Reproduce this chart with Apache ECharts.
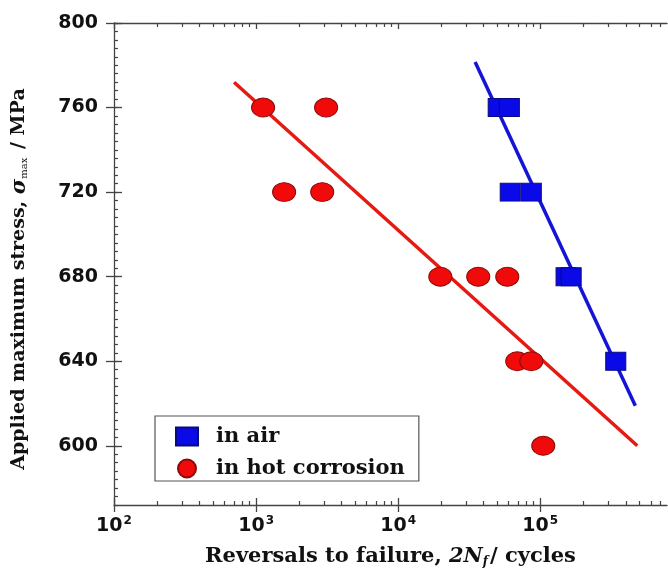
<!DOCTYPE html>
<html>
<head>
<meta charset="utf-8">
<script src="https://cdn.jsdelivr.net/npm/echarts@6/dist/echarts.min.js"></script>
<style>html,body{margin:0;padding:0;background:#fff}#c{width:668px;height:580px}</style>
</head>
<body>
<div id="c"></div>
<script>
// ---- data ----
var airCycles   = [50600, 60600, 61500, 86500, 152000, 165000, 340000];
var airStress   = [760, 760, 720, 720, 680, 680, 640];
var hotCycles   = [1120, 3110, 1575, 2920, 19800, 36600, 58600, 68900, 86500, 105000];
var hotStress   = [760, 760, 720, 720, 680, 680, 680, 640, 640, 600];
var airFitCycles = [34800, 467000];
var airFitStress = [781.5, 619];
var hotFitCycles = [700, 482000];
var hotFitStress = [772, 600];
var xMajorTicks = [100, 1000, 10000, 100000];
var xMinorTicks = [200,300,400,500,600,700,800,900,2000,3000,4000,5000,6000,7000,8000,9000,
                   20000,30000,40000,50000,60000,70000,80000,90000,200000,300000,400000,500000,600000,700000];
var yMajorTicks = [600, 640, 680, 720, 760, 800];
var legendNames = ['in air', 'in hot corrosion'];

function pairs(xs, ys){ return xs.map(function(x,i){ return [x, ys[i]]; }); }

var XMIN = 100, XMAX = 780000, YMIN = 572, YMAX = 800;
var axisColor = '#444';
function xAx(extra){
  var base = {type:'log', logBase:10, min:XMIN, max:XMAX, gridIndex:0,
    axisLine:{show:false}, axisLabel:{show:false}, axisTick:{show:false},
    splitLine:{show:false}, minorTick:{show:false}};
  for (var k in extra) base[k] = extra[k];
  return base;
}
function yAx(extra){
  var base = {type:'value', min:YMIN, max:YMAX, gridIndex:0, position:'left',
    axisLine:{show:false}, axisLabel:{show:false}, axisTick:{show:false},
    splitLine:{show:false}, minorTick:{show:false}};
  for (var k in extra) base[k] = extra[k];
  return base;
}
var serif = '"DejaVu Serif", "Liberation Serif", serif';
var sans = '"DejaVu Sans", "Liberation Sans", sans-serif';

var option = {
  animation:false,
  backgroundColor:'#fff',
  grid:{left:114, top:23, right:1, bottom:75, containLabel:false},
  legend:{
    data: legendNames,
    orient:'vertical', left:155, top:416,
    backgroundColor:'#fff', borderColor:'#555', borderWidth:1.2,
    padding:[10, 14, 2, 20], itemGap:11, itemWidth:22, itemHeight:18,
    textStyle:{fontFamily:serif, fontWeight:'bold', fontSize:21, color:'#111', padding:[0,0,0,13]}
  },
  xAxis:[
    xAx({position:'bottom',
      axisLine:{show:true, lineStyle:{color:axisColor, width:1.3}},
      axisTick:{show:true, inside:false, length:7, customValues:xMajorTicks, lineStyle:{color:axisColor, width:1.3}},
      axisLabel:{show:true, customValues:xMajorTicks, margin:10,
        formatter:function(v){ return '{b|10}{s|' + Math.round(Math.log(v)/Math.LN10) + '}'; },
        rich:{ b:{fontFamily:sans, fontWeight:'bold', fontSize:19, color:'#111'},
               s:{fontFamily:sans, fontWeight:'bold', fontSize:12, color:'#111', verticalAlign:'top', padding:[0,0,10,1]} }},
      name:'{n|Reversals to failure, }{i|2N}{sub|f}{n|/ cycles}', nameLocation:'middle', nameGap:40,
      nameTextStyle:{rich:{
        n:{fontFamily:serif, fontWeight:'bold', fontSize:21, color:'#111'},
        i:{fontFamily:serif, fontWeight:'bold', fontStyle:'italic', fontSize:21, color:'#111'},
        sub:{fontFamily:serif, fontWeight:'bold', fontStyle:'italic', fontSize:12, color:'#111', padding:[11,2,0,0]}
      }}
    }),
    xAx({position:'bottom', axisTick:{show:true, inside:true, length:7, customValues:xMajorTicks, lineStyle:{color:axisColor, width:1.3}}}),
    xAx({position:'bottom', axisTick:{show:true, inside:true, length:4, customValues:xMinorTicks, lineStyle:{color:axisColor, width:1.2}}}),
    xAx({position:'top', axisLine:{show:true, lineStyle:{color:axisColor, width:1.3}},
      axisTick:{show:true, inside:true, length:6, customValues:xMajorTicks, lineStyle:{color:axisColor, width:1.3}}}),
    xAx({position:'top', axisTick:{show:true, inside:true, length:4, customValues:xMinorTicks, lineStyle:{color:axisColor, width:1.2}}})
  ],
  yAxis:[
    yAx({
      axisLine:{show:true, lineStyle:{color:axisColor, width:1.3}},
      axisTick:{show:true, inside:false, length:8, customValues:yMajorTicks, lineStyle:{color:axisColor, width:1.3}},
      axisLabel:{show:true, customValues:yMajorTicks, margin:16, fontFamily:sans, fontWeight:'bold', fontSize:19, color:'#111'},
      name:'{n|Applied maximum stress, }{g|σ}{sub|max}{n| / MPa}', nameLocation:'middle', nameGap:84, nameRotate:90,
      nameTextStyle:{padding:[0, 30, 0, 0], rich:{
        n:{fontFamily:serif, fontWeight:'bold', fontSize:19, color:'#111'},
        g:{fontFamily:serif, fontWeight:'bold', fontStyle:'italic', fontSize:21, color:'#111'},
        sub:{fontFamily:serif, fontSize:10, color:'#111', padding:[10,2,0,0]}
      }}
    }),
    yAx({axisTick:{show:true, inside:true, length:8, customValues:yMajorTicks, lineStyle:{color:axisColor, width:1.3}}}),
    yAx({interval:4, axisTick:{show:true, inside:true, length:4, lineStyle:{color:axisColor, width:1.2}}})
  ],
  series:[
    {type:'line', data:pairs(hotFitCycles, hotFitStress), symbol:'none', silent:true,
     lineStyle:{color:'#e51a12', width:3.5}, z:2},
    {type:'line', data:pairs(airFitCycles, airFitStress), symbol:'none', silent:true,
     lineStyle:{color:'#1414d6', width:3.5}, z:2},
    {name:legendNames[0], type:'scatter', data:pairs(airCycles, airStress), symbol:'rect', symbolSize:[20,18],
     itemStyle:{color:'#0a0ae8', borderColor:'#0a0a80', borderWidth:1, opacity:1}, z:3},
    {name:legendNames[1], type:'scatter', data:pairs(hotCycles, hotStress), symbol:'circle', symbolSize:[23,19],
     itemStyle:{color:'#f00a0a', borderColor:'#8a0a0a', borderWidth:1, opacity:1}, z:3}
  ]
};
var chart = echarts.init(document.getElementById('c'), null, {renderer:'canvas'});
chart.setOption(option);
</script>
</body>
</html>
